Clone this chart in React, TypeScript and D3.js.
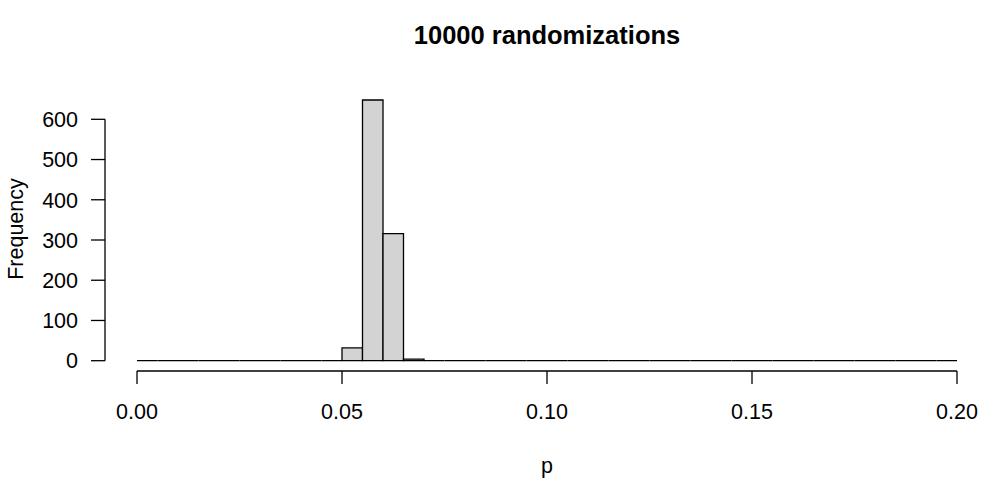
import React from "react";
import * as d3 from "d3";

const binEdges: number[] = d3.range(0, 41).map((i) => +(i * 0.005).toFixed(3));
const counts: number[] = [
  0, 0, 0, 0, 0, 0, 0, 0, 0, 0,
  32, 648, 316, 4, 0, 0, 0, 0, 0, 0,
  0, 0, 0, 0, 0, 0, 0, 0, 0, 0,
  0, 0, 0, 0, 0, 0, 0, 0, 0, 0,
];
const xTicks: number[] = [0, 0.05, 0.1, 0.15, 0.2];
const yTicks: number[] = [0, 100, 200, 300, 400, 500, 600];
const title = "10000 randomizations";
const xLabel = "p";
const yLabel = "Frequency";

export default function App() {
  const W = 1000;
  const H = 487;
  const x = d3.scaleLinear().domain([0, 0.2]).range([137, 957]);
  const y = d3.scaleLinear().domain([0, 600]).range([360.7, 119.3]);
  const font = "'Liberation Sans', Arial, Helvetica, sans-serif";
  const barPath = (i: number) => {
    const p = d3.path();
    const x0 = x(binEdges[i]);
    const x1 = x(binEdges[i + 1]);
    p.moveTo(x0, y(0));
    p.lineTo(x0, y(counts[i]));
    p.lineTo(x1, y(counts[i]));
    p.lineTo(x1, y(0));
    p.closePath();
    return p.toString();
  };
  return (
    <svg
      width={W}
      height={H}
      style={{ position: "absolute", left: 0, top: 0, background: "#fff" }}
      fontFamily={font}
    >
      <rect x={0} y={0} width={W} height={H} fill="#fff" />
      {counts.map((c, i) => (
        <path key={i} d={barPath(i)} fill="#d3d3d3" stroke="#000" strokeWidth={1.3} />
      ))}
      {/* x axis */}
      <line x1={x(0)} x2={x(0.2)} y1={371} y2={371} stroke="#000" strokeWidth={1.3} />
      {xTicks.map((t) => (
        <g key={t}>
          <line x1={x(t)} x2={x(t)} y1={371} y2={384} stroke="#000" strokeWidth={1.3} />
          <text x={x(t)} y={419} textAnchor="middle" fontSize={21.5} fill="#000">
            {t.toFixed(2)}
          </text>
        </g>
      ))}
      {/* y axis */}
      <line x1={105} x2={105} y1={y(0)} y2={y(600)} stroke="#000" strokeWidth={1.3} />
      {yTicks.map((t) => (
        <g key={t}>
          <line x1={91} x2={105} y1={y(t)} y2={y(t)} stroke="#000" strokeWidth={1.3} />
          <text x={78} y={y(t)} dy="0.36em" textAnchor="end" fontSize={21.5} fill="#000">
            {t}
          </text>
        </g>
      ))}
      <text x={547} y={44} textAnchor="middle" fontSize={25.5} fontWeight="bold" fill="#000">
        {title}
      </text>
      <text x={547} y={473} textAnchor="middle" fontSize={21.5} fill="#000">
        {xLabel}
      </text>
      <text
        transform={`translate(23, 229) rotate(-90)`}
        textAnchor="middle"
        fontSize={21.5}
        fill="#000"
      >
        {yLabel}
      </text>
    </svg>
  );
}
